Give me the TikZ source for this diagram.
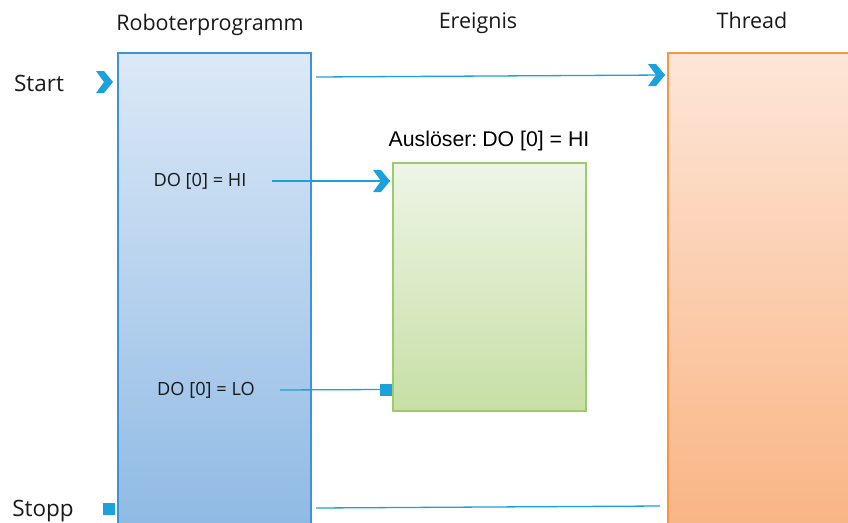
\documentclass[tikz,border=0pt]{standalone}
\usepackage{fontspec}
\setmainfont{Open Sans}
\newfontfamily\arialfont{Liberation Sans}
\begin{document}
\begin{tikzpicture}[x=1pt,y=-1pt,
  lane/.style={draw,line width=1.8pt,rectangle,inner sep=0pt,anchor=north west},
  title/.style={font=\fontsize{21.5}{25}\selectfont,text=black!90,inner sep=0pt},
  sidelab/.style={font=\fontsize{22.5}{26}\selectfont,text=black!90,inner sep=0pt},
  sig/.style={font=\fontsize{18.2}{21}\selectfont,text=black!90,inner sep=0pt},
  conn/.style={draw=evblue,line width=1.3pt},
  stopsq/.style={fill=evblue,draw=none,minimum size=12pt,inner sep=0pt}]
\definecolor{evblue}{HTML}{1BA1DB}
\definecolor{progedge}{HTML}{3D93D6}
\definecolor{progtop}{HTML}{DCE9F7}
\definecolor{progbot}{HTML}{8BB7E3}
\definecolor{evedge}{HTML}{9BCB6C}
\definecolor{evtop}{HTML}{EEF5E6}
\definecolor{evbot}{HTML}{C7DFA5}
\definecolor{thedge}{HTML}{F79646}
\definecolor{thtop}{HTML}{FDE6D8}
\definecolor{thbot}{HTML}{F9B27F}
\useasboundingbox (0,0) rectangle (848,522);
\clip (0,0) rectangle (848,522);
% chevron tip macro: tip at the given point
\newcommand{\chevron}[1]{\fill[evblue] (#1) ++(-17,-11) -- ++(8,0) -- ++(9,11) -- ++(-9,11) -- ++(-8,0) -- ++(8,-11) -- cycle;}

% lanes
\node[lane,draw=progedge,top color=progtop,bottom color=progbot,minimum width=193pt,minimum height=500pt] (prog) at (117,52) {};
\node[lane,draw=evedge,top color=evtop,bottom color=evbot,minimum width=193pt,minimum height=248pt] (ev) at (392,162) {};
\node[lane,draw=thedge,top color=thtop,bottom color=thbot,minimum width=220pt,minimum height=500pt] (th) at (667,52) {};

% headings
\node[title] (hprog) at (210,25) {Roboterprogramm};
\node[title] (hev) at (478,23) {Ereignis};
\node[title] (hth) at (752,20) {Thread};
\node[font=\arialfont\fontsize{21.3}{25}\selectfont,inner sep=0pt] (trig) at (489,141) {Ausl\"oser:\kern-1pt\ DO [0] = HI};

% side labels
\node[sidelab] (start) at (39,83) {Start};
\node[sidelab] (stopp) at (43,511) {Stopp};
\coordinate (starttip) at (113,82);
\chevron{starttip}
\node[stopsq] (stopbox) at (108.5,508.5) {};

% signals inside the program
\node[sig] (hi) at (200,181) {DO [0] = HI};
\node[sig] (lo) at (206,390) {DO [0] = LO};

% connectors
\coordinate (a0) at (316,77);
\coordinate (a1) at (665,75);
\draw[conn] (a0) -- (a1);
\chevron{a1}

\coordinate (h0) at (272,181);
\coordinate (h1) at (390,181);
\draw[conn] (h0) -- (h1);
\chevron{h1}

\node[stopsq] (losq) at (386,389.5) {};
\coordinate (l0) at (280,390);
\draw[conn] (l0) -- (losq.west);

\coordinate (s0) at (316,508);
\coordinate (s1) at (660,506);
\draw[conn] (s0) -- (s1);
\end{tikzpicture}
\end{document}
